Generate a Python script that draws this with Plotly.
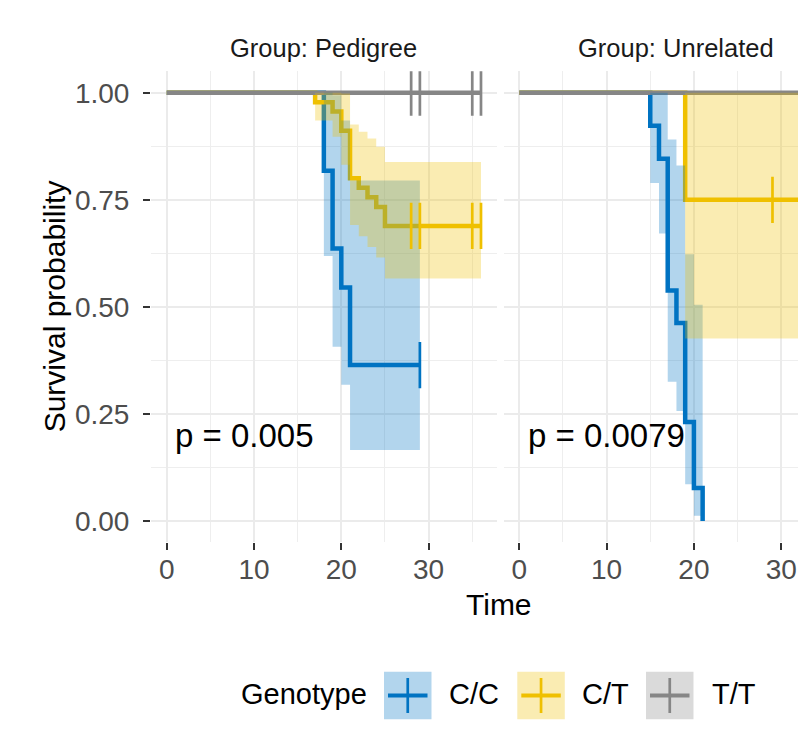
import plotly.graph_objects as go

# ---------------- data ----------------
genotypes = ["C/C", "C/T", "T/T"]
colors = {"C/C": "#0073C2", "C/T": "#EFC000", "T/T": "#868686"}
fills = {"C/C": "rgba(0,115,194,0.3)", "C/T": "rgba(239,192,0,0.3)", "T/T": "rgba(134,134,134,0.3)"}

# Group: Pedigree
ped_cc_time = [0, 18, 19, 20, 21, 29]
ped_cc_surv = [1.0, 0.818, 0.636, 0.545, 0.364, 0.364]
ped_cc_upper = [1.0, 1.0, 0.994, 0.935, 0.795, 0.795]
ped_cc_lower = [1.0, 0.619, 0.407, 0.318, 0.166, 0.166]
ped_cc_censor = [29]

ped_ct_time = [0, 17, 19, 20, 21, 22, 23, 24, 25, 36]
ped_ct_surv = [1.0, 0.978, 0.956, 0.911, 0.800, 0.778, 0.756, 0.733, 0.689, 0.689]
ped_ct_upper = [1.0, 1.0, 1.0, 0.998, 0.926, 0.909, 0.893, 0.874, 0.838, 0.838]
ped_ct_lower = [1.0, 0.935, 0.897, 0.832, 0.691, 0.665, 0.640, 0.615, 0.566, 0.566]
ped_ct_censor = [28, 29, 35, 36]

ped_tt_time = [0, 36]
ped_tt_surv = [1.0, 1.0]
ped_tt_censor = [28, 29, 35, 36]

# Group: Unrelated
unr_cc_time = [0, 15, 16, 17, 18, 19, 20, 21]
unr_cc_surv = [1.0, 0.923, 0.846, 0.538, 0.462, 0.231, 0.077, 0.0]
unr_cc_upper = [1.0, 1.0, 1.0, 0.891, 0.830, 0.623, 0.505, 0.505]
unr_cc_lower = [1.0, 0.789, 0.671, 0.325, 0.257, 0.086, 0.012, 0.012]
unr_cc_censor = []

unr_ct_time = [0, 19, 36]
unr_ct_surv = [1.0, 0.75, 0.75]
unr_ct_upper = [1.0, 1.0, 1.0]
unr_ct_lower = [1.0, 0.426, 0.426]
unr_ct_censor = [29]

unr_tt_time = [0, 36]
unr_tt_surv = [1.0, 1.0]
unr_tt_censor = []

p_values = ["p = 0.005", "p = 0.0079"]
panel_titles = ["Group: Pedigree", "Group: Unrelated"]
x_tickvals = [0, 10, 20, 30]
y_tickvals = [0, 0.25, 0.5, 0.75, 1.0]
y_ticktext = ["0.00", "0.25", "0.50", "0.75", "1.00"]
time_max = 36

# ---------------- layout helpers ----------------
# The page body has an 8px default margin; positions below are window pixels.
OFF = 8
WIN_W, WIN_H = 806, 744
W, H = WIN_W - OFF, WIN_H - OFF
def px(x):
    return (x - OFF) / W
def py(y):
    return 1 - (y - OFF) / H

x_lo, x_hi = -0.05 * time_max, time_max * 1.05
p1_left, p1_right = 151.0, 496.7
p2_left = 503.6
scale = (p1_right - p1_left) / (x_hi - x_lo)
x2_hi = x_lo + (WIN_W - p2_left) / scale
top_px, bot_px = 71.3, 542.4

fig = go.Figure()

panels = [
    ("x", "y", [
        ("C/C", ped_cc_time, ped_cc_surv, ped_cc_upper, ped_cc_lower, ped_cc_censor),
        ("C/T", ped_ct_time, ped_ct_surv, ped_ct_upper, ped_ct_lower, ped_ct_censor),
        ("T/T", ped_tt_time, ped_tt_surv, None, None, ped_tt_censor),
    ]),
    ("x2", "y2", [
        ("C/C", unr_cc_time, unr_cc_surv, unr_cc_upper, unr_cc_lower, unr_cc_censor),
        ("C/T", unr_ct_time, unr_ct_surv, unr_ct_upper, unr_ct_lower, unr_ct_censor),
        ("T/T", unr_tt_time, unr_tt_surv, None, None, unr_tt_censor),
    ]),
]

LW = 4.5
for xa, ya, series in panels:
    # survival step lines
    for g, t, s, up, lo, cen in series:
        fig.add_trace(go.Scatter(x=t, y=s, mode="lines", line=dict(color=colors[g], width=LW, shape="hv"),
                                 xaxis=xa, yaxis=ya, hoverinfo="skip", showlegend=False))
    # confidence ribbons (drawn over the lines)
    for g, t, s, up, lo, cen in series:
        if up is None:
            continue
        fig.add_trace(go.Scatter(x=t, y=up, mode="lines", line=dict(width=0, shape="hv", color=fills[g]),
                                 xaxis=xa, yaxis=ya, hoverinfo="skip", showlegend=False))
        fig.add_trace(go.Scatter(x=t, y=lo, mode="lines", line=dict(width=0, shape="hv", color=fills[g]),
                                 fill="tonexty", fillcolor=fills[g],
                                 xaxis=xa, yaxis=ya, hoverinfo="skip", showlegend=False))
    # censor marks
    for g, t, s, up, lo, cen in series:
        if not cen:
            continue
        cy = [s[-1]] * len(cen)
        fig.add_trace(go.Scatter(x=cen, y=cy, mode="markers",
                                 marker=dict(symbol="line-ns", size=33, line=dict(color=colors[g], width=2.7)),
                                 xaxis=xa, yaxis=ya, hoverinfo="skip", showlegend=False))

tickfont = dict(family="Liberation Sans, Arial, sans-serif", size=28, color="#4D4D4D")
grid = dict(showgrid=True, gridcolor="#EBEBEB", gridwidth=2)
minor_x = dict(dtick=5, tick0=0, showgrid=True, gridcolor="#EEEEEE", gridwidth=1.3, ticks="")
minor_y = dict(dtick=0.125, tick0=0, showgrid=True, gridcolor="#EEEEEE", gridwidth=1.3, ticks="")

xcommon = dict(tickmode="array", tickvals=x_tickvals, ticks="outside", ticklen=7, tickwidth=2,
               tickcolor="#333333", tickfont=tickfont, zeroline=False, showline=False,
               ticklabelstandoff=-5, minor=minor_x, **grid)
ycommon = dict(range=[-0.05, 1.05], tickmode="array", tickvals=y_tickvals, zeroline=False,
               showline=False, minor=minor_y, **grid)

fig.update_layout(
    width=W, height=H,
    margin=dict(l=0, r=0, t=0, b=0),
    paper_bgcolor="white", plot_bgcolor="white",
    showlegend=False,
    font=dict(family="Liberation Sans, Arial, sans-serif", color="black"),
    xaxis=dict(domain=[px(p1_left), px(p1_right)], range=[x_lo, x_hi], anchor="y", **xcommon),
    xaxis2=dict(domain=[px(p2_left), 1.0], range=[x_lo, x2_hi], anchor="y2", **xcommon),
    yaxis=dict(domain=[py(bot_px), py(top_px)], anchor="x", ticktext=y_ticktext, ticks="outside",
               ticklen=7, tickwidth=2, tickcolor="#333333", tickfont=tickfont, ticklabelstandoff=8,
               **ycommon),
    yaxis2=dict(domain=[py(bot_px), py(top_px)], anchor="x2", matches="y", showticklabels=False,
                ticks="", **ycommon),
)

ann = []
# strip titles
for title, cx in zip(panel_titles, [(p1_left + p1_right) / 2, p2_left + (p1_right - p1_left) / 2]):
    ann.append(dict(text=title, x=px(cx), y=py(47.5), xref="paper", yref="paper", showarrow=False,
                    xanchor="center", yanchor="middle", font=dict(size=25.5, color="#1A1A1A")))
# p-values
for txt, xr, yr in zip(p_values, ["x", "x2"], ["y", "y2"]):
    ann.append(dict(text=txt, x=time_max / 50, y=0.2, xref=xr, yref=yr, showarrow=False,
                    xanchor="left", yanchor="middle", font=dict(size=33, color="black")))
# axis titles
ann.append(dict(text="Time", x=px(499), y=py(604.5), xref="paper", yref="paper", showarrow=False,
                xanchor="center", yanchor="middle", font=dict(size=30, color="black")))
ann.append(dict(text="Survival probability", x=px(54.5), y=py((top_px + bot_px) / 2), xref="paper",
                yref="paper", showarrow=False, textangle=-90, xanchor="center", yanchor="middle",
                font=dict(size=30, color="black")))
# legend
ann.append(dict(text="Genotype", x=px(238.5), y=py(694), xref="paper", yref="paper", showarrow=False,
                xanchor="left", yanchor="middle", font=dict(size=29, color="black")))
key_left = [384.0, 517.3, 646.0]
label_left = [446.5, 580.0, 710.0]
shapes = []
for g, kl, ll in zip(genotypes, key_left, label_left):
    kw = 47.5
    shapes.append(dict(type="rect", xref="paper", yref="paper", x0=px(kl), x1=px(kl + kw),
                       y0=py(719.3), y1=py(671.8), fillcolor=fills[g], line=dict(width=0), layer="above"))
    shapes.append(dict(type="line", xref="paper", yref="paper", x0=px(kl + 4), x1=px(kl + kw - 4),
                       y0=py(695.5), y1=py(695.5), line=dict(color=colors[g], width=4), layer="above"))
    shapes.append(dict(type="line", xref="paper", yref="paper", x0=px(kl + kw / 2), x1=px(kl + kw / 2),
                       y0=py(678), y1=py(713), line=dict(color=colors[g], width=2.7), layer="above"))
    ann.append(dict(text=g, x=px(ll), y=py(694), xref="paper", yref="paper", showarrow=False,
                    xanchor="left", yanchor="middle", font=dict(size=29, color="black")))

fig.update_layout(annotations=ann, shapes=shapes)
fig.write_html("out.html")
